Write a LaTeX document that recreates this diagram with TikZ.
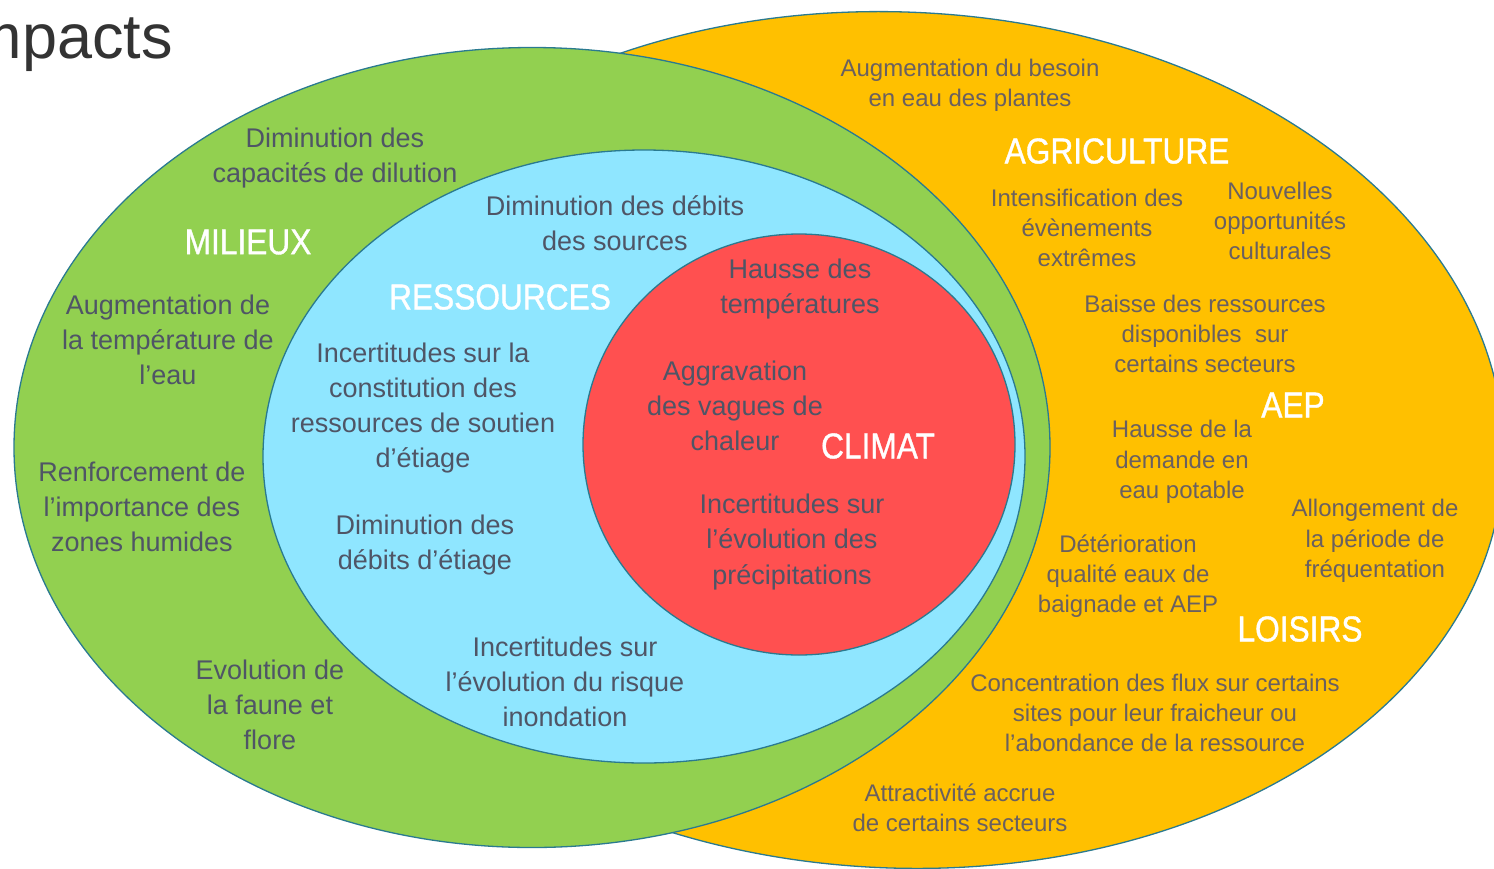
\documentclass[tikz,border=0pt]{standalone}
\usepackage{fontspec}
\setmainfont{Liberation Sans}
\newfontfamily\capfont[FakeStretch=0.88, FakeBold=1]{Liberation Sans}
\definecolor{rimcol}{HTML}{2A7A90}
\definecolor{agri}{HTML}{FFC000}
\definecolor{milieu}{HTML}{92D050}
\definecolor{ressource}{HTML}{8FE6FF}
\definecolor{climat}{HTML}{FF5050}
\definecolor{txtcol}{HTML}{4F5566}
\definecolor{otxtcol}{HTML}{6A6060}
\definecolor{titlecol}{HTML}{333333}
\begin{document}
\begin{tikzpicture}[x=1pt,y=-1pt,
  zone/.style={draw=rimcol, line width=1.3pt},
  txt/.style={text=txtcol, align=center, inner sep=0pt,
    font=\fontsize{27}{35.3}\selectfont},
  otxt/.style={text=otxtcol, align=center, inner sep=0pt,
    font=\fontsize{24}{30.3}\selectfont},
  zonelabel/.style={text=white, inner sep=0pt,
    font=\capfont\fontsize{36}{40}\selectfont}]
\useasboundingbox (0,0) rectangle (1494,868);
\begin{scope}
\clip (0,0) rectangle (1494,868);
\fill[white] (0,0) rectangle (1494,868);
% nested zones, outermost first
\path[zone, fill=agri, rotate around={-2.5:(898,440)}]
  (898,440) ellipse [x radius=606, y radius=428];
\path[zone, fill=milieu] (532,447.5) ellipse [x radius=518, y radius=400];
\path[zone, fill=ressource] (644,456.5) ellipse [x radius=381, y radius=306.5];
\path[zone, fill=climat] (799,444.5) ellipse [x radius=216, y radius=210.5];

% title
\node[anchor=base east, text=titlecol, inner sep=0pt,
  font=\fontsize{63}{70}\selectfont] (title) at (173,58) {Impacts};

% MILIEUX
\node[zonelabel] (milieux) at (248,242) {MILIEUX};
\node[txt] (dilution) at (335,158) {Diminution des\\capacités de dilution};
\node[txt] (tempeau) at (168,340) {Augmentation de\\la température de\\l’eau};
\node[txt] (humides) at (142,507) {Renforcement de\\l’importance des\\zones humides};
\node[txt] (faune) at (270,705) {Evolution de\\la faune et\\flore};

% RESSOURCES
\node[zonelabel] (ressources) at (500,297) {RESSOURCES};
\node[txt] (sources) at (615,223) {Diminution des débits\\des sources};
\node[txt] (soutien) at (423,408) {Incertitudes sur la\\constitution des\\ressources de soutien\\d’étiage};
\node[txt] (etiage) at (425,545) {Diminution des\\débits d’étiage};
\node[txt] (inondation) at (565,682) {Incertitudes sur\\l’évolution du risque\\inondation};

% CLIMAT
\node[zonelabel] (climatlbl) at (878,446) {CLIMAT};
\node[txt] (temperatures) at (800,289) {Hausse des\\températures};
\node[txt] (vagues) at (735,406) {Aggravation\\des vagues de\\chaleur};
\node[txt] (precip) at (792,542) {Incertitudes sur\\l’évolution des\\précipitations};

% AGRICULTURE, AEP, LOISIRS
\node[zonelabel] (agriculture) at (1117,151) {AGRICULTURE};
\node[otxt] (besoin) at (970,85) {Augmentation du besoin\\en eau des plantes};
\node[otxt] (extremes) at (1087,228) {Intensification des\\évènements\\extrêmes};
\node[otxt] (cultures) at (1280,221) {Nouvelles\\opportunités\\culturales};
\node[otxt] (baisse) at (1205,334) {Baisse des ressources\\disponibles\ \ sur\\certains secteurs};
\node[zonelabel] (aep) at (1293,405) {AEP};
\node[otxt] (demande) at (1182,462) {Hausse de la\\demande en\\eau potable};
\node[otxt] (frequentation) at (1375,541) {Allongement de\\la période de\\fréquentation};
\node[otxt] (baignade) at (1128,576) {Détérioration\\qualité eaux de\\baignade et AEP};
\node[zonelabel] (loisirs) at (1300,629) {LOISIRS};
\node[otxt] (flux) at (1155,713) {Concentration des flux sur certains\\sites pour leur fraicheur ou\\l’abondance de la ressource};
\node[otxt] (attractivite) at (960,808) {Attractivité accrue\\de certains secteurs};
\end{scope}
\end{tikzpicture}
\end{document}
